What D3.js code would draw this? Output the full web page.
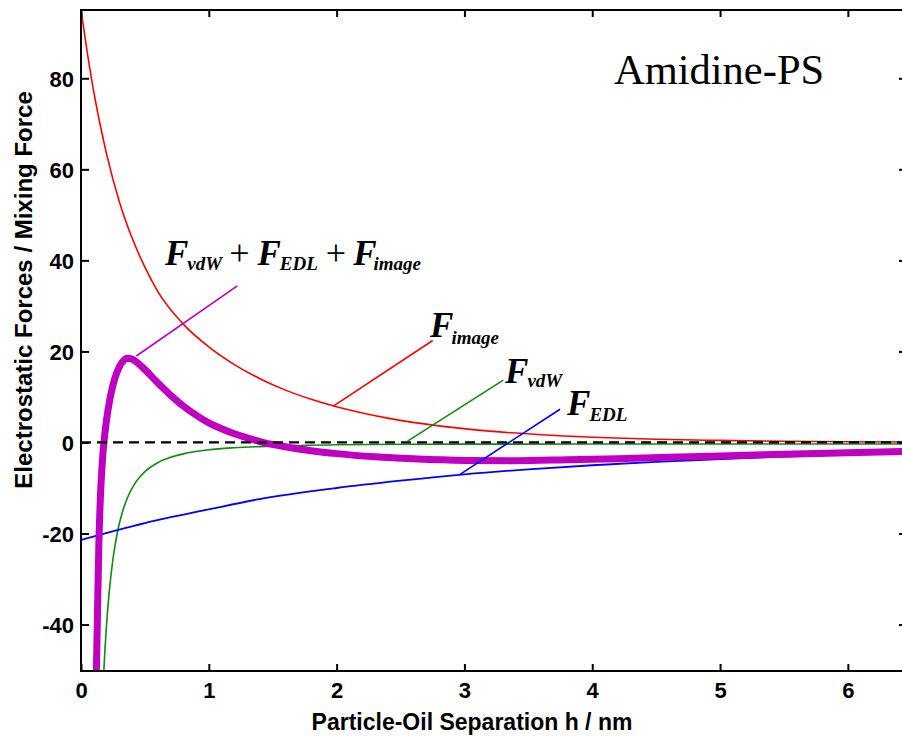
<!DOCTYPE html>
<html>
<head>
<meta charset="utf-8">
<script src="https://cdn.jsdelivr.net/npm/d3@7"></script>
<style>
  html, body { margin: 0; padding: 0; background: #fff; }
  svg { display: block; }
</style>
</head>
<body>
<svg id="chart" width="902" height="736"></svg>
<script>
// Separation h (nm) and force values for each component
const imageH   = [0, 0.05, 0.1, 0.15, 0.2, 0.3, 0.4, 0.5, 0.6, 0.8, 1.0, 1.2, 1.4, 1.6, 1.8, 2.0, 2.4, 2.8, 3.2, 3.6, 4.0, 4.5, 5.0, 5.5, 6.0, 6.45];
const imageF   = [95, 85.5, 77.0, 69.8, 63.4, 52.9, 44.9, 38.5, 33.2, 26.0, 21.0, 17.1, 14.0, 11.5, 9.5, 7.85, 5.35, 3.65, 2.5, 1.7, 1.16, 0.72, 0.45, 0.28, 0.17, 0.11];

const vdwH     = [0.15, 0.16, 0.17, 0.18, 0.20, 0.22, 0.25, 0.29, 0.33, 0.37, 0.43, 0.50, 0.60, 0.70, 0.80, 1.00, 1.20, 1.50, 2.00, 2.50, 3.00, 4.00, 5.00, 6.45];
const vdwF     = [-71, -62.5, -55.4, -49.4, -40, -33.1, -25.6, -19.0, -14.7, -11.7, -8.65, -6.4, -4.45, -3.27, -2.5, -1.6, -1.15, -0.8, -0.5, -0.4, -0.36, -0.34, -0.33, -0.32];

const edlH     = [0, 0.5, 1.0, 1.385, 2.0, 2.5, 3.0, 3.5, 4.0, 4.5, 5.0, 5.5, 6.0, 6.45];
const edlF     = [-21.4, -17.7, -14.7, -12.5, -10.0, -8.4, -7.0, -5.9, -5.0, -4.25, -3.65, -3.1, -2.65, -2.3];

const totalH   = [0.11, 0.12, 0.13, 0.14, 0.155, 0.17, 0.185, 0.20, 0.22, 0.24, 0.26, 0.28, 0.30, 0.33, 0.36, 0.40, 0.45, 0.50, 0.60, 0.70, 0.80, 0.90, 1.00, 1.10, 1.20, 1.30, 1.40, 1.60, 1.80, 2.00, 2.30, 2.60, 3.00, 3.40, 3.80, 4.20, 4.60, 5.00, 5.50, 6.00, 6.45];
const totalF   = [-66, -51, -36, -22, -10, -3, 1.5, 5.0, 8.6, 11.4, 13.6, 15.3, 16.6, 17.9, 18.5, 18.3, 17.3, 16.0, 13.1, 10.4, 8.0, 6.0, 4.3, 3.0, 1.9, 1.0, 0.2, -0.95, -1.8, -2.45, -3.15, -3.6, -3.95, -4.0, -3.8, -3.55, -3.25, -2.95, -2.6, -2.25, -1.95];

// Axis ticks
const xTicks = [0, 1, 2, 3, 4, 5, 6];
const yTicks = [-40, -20, 0, 20, 40, 60, 80];

// Leader lines (h, F) -> (h, F) and their labels
const leaderLines = [
  { key: "total", from: [0.433, 19.0], to: [1.223, 34.4], color: "#c000c0" },
  { key: "image", from: [1.974, 8.0],  to: [2.752, 22.4], color: "#ff0000" },
  { key: "vdw",   from: [2.549, 0.18], to: [3.304, 13.7], color: "#108a10" },
  { key: "edl",   from: [2.966, -7.0], to: [3.748, 7.3],  color: "#0000ff" }
];
const labelPos = {
  total: [0.657, 39.0],
  image: [2.731, 23.2],
  vdw:   [3.318, 13.1],
  edl:   [3.803, 6.0]
};

const svg = d3.select("#chart");
const W = 902, H = 736;
const mLeft = 81, mTop = 10, mRight = 906, mBottom = 671;

svg.append("rect").attr("width", W).attr("height", H).attr("fill", "#fff");

const x = d3.scaleLinear().domain([0, 6.455]).range([mLeft, mRight]);
const y = d3.scaleLinear().domain([-50.2, 95]).range([mBottom, mTop]);

svg.append("defs").append("clipPath").attr("id", "plotClip")
  .append("rect").attr("x", mLeft).attr("y", mTop).attr("width", mRight - mLeft).attr("height", mBottom - mTop);

const plot = svg.append("g").attr("clip-path", "url(#plotClip)");

const line = d3.line().x(d => x(d[0])).y(d => y(d[1])).curve(d3.curveMonotoneX);
const zip = (a, b) => a.map((v, i) => [v, b[i]]);

plot.append("path").datum(zip(imageH, imageF))
  .attr("d", line).attr("fill", "none").attr("stroke", "#ff0000").attr("stroke-width", 1.6);
plot.append("path").datum(zip(vdwH, vdwF))
  .attr("d", line).attr("fill", "none").attr("stroke", "#108a10").attr("stroke-width", 1.6);
plot.append("path").datum(zip(edlH, edlF))
  .attr("d", line).attr("fill", "none").attr("stroke", "#0000ff").attr("stroke-width", 1.8);
plot.append("path").datum(zip(totalH, totalF))
  .attr("d", line).attr("fill", "none").attr("stroke", "#c000c0").attr("stroke-width", 7)
  .attr("stroke-linejoin", "round");

// zero reference
plot.append("line")
  .attr("x1", x(0)).attr("x2", x(6.455)).attr("y1", y(0)).attr("y2", y(0))
  .attr("stroke", "#000").attr("stroke-width", 2.2).attr("stroke-dasharray", "10,6");

// leader lines
plot.selectAll("line.leader").data(leaderLines).enter().append("line")
  .attr("class", "leader")
  .attr("x1", d => x(d.from[0])).attr("y1", d => y(d.from[1]))
  .attr("x2", d => x(d.to[0])).attr("y2", d => y(d.to[1]))
  .attr("stroke", d => d.color).attr("stroke-width", 1.6);

// frame
svg.append("rect").attr("x", mLeft).attr("y", mTop).attr("width", mRight - mLeft).attr("height", mBottom - mTop)
  .attr("fill", "none").attr("stroke", "#000").attr("stroke-width", 2);

// axes (ticks point inward)
const fmt = d => String(d);
const xAxis = svg.append("g").attr("transform", `translate(0,${mBottom})`)
  .call(d3.axisBottom(x).tickValues(xTicks).tickSize(-7).tickPadding(11).tickFormat(fmt));
const xAxisTop = svg.append("g").attr("transform", `translate(0,${mTop})`)
  .call(d3.axisTop(x).tickValues(xTicks).tickSize(-7).tickFormat(""));
const yAxis = svg.append("g").attr("transform", `translate(${mLeft},0)`)
  .call(d3.axisLeft(y).tickValues(yTicks).tickSize(-8).tickPadding(7).tickFormat(fmt));
const yAxisRight = svg.append("g").attr("transform", `translate(${mRight},0)`)
  .call(d3.axisRight(y).tickValues(yTicks).tickSize(-7).tickFormat(""));

[xAxis, xAxisTop, yAxis, yAxisRight].forEach(g => {
  g.select(".domain").remove();
  g.selectAll(".tick line").attr("stroke", "#000").attr("stroke-width", 2);
  g.selectAll(".tick text")
    .attr("fill", "#000")
    .style("font-family", "Arial, 'Liberation Sans', sans-serif")
    .style("font-weight", "bold")
    .style("font-size", "22px");
});
yAxis.selectAll(".tick text").attr("dy", "0.36em");

// axis titles
svg.append("text")
  .attr("x", 472).attr("y", 730)
  .attr("text-anchor", "middle")
  .style("font-family", "Arial, 'Liberation Sans', sans-serif")
  .style("font-weight", "bold").style("font-size", "23px")
  .text("Particle-Oil Separation h / nm");

svg.append("text")
  .attr("transform", "translate(32,290) rotate(-90)")
  .attr("text-anchor", "middle")
  .style("font-family", "Arial, 'Liberation Sans', sans-serif")
  .style("font-weight", "bold").style("font-size", "24px")
  .text("Electrostatic Forces / Mixing Force");

// sample name
svg.append("text")
  .attr("x", 614).attr("y", 84)
  .style("font-family", "'Liberation Serif', 'Times New Roman', serif")
  .style("font-size", "42.5px")
  .text("Amidine-PS");

// curve labels: F with subscript
const serif = "'Liberation Serif', 'Times New Roman', serif";
function forceLabel(g, parts) {
  const t = g.append("text").style("font-family", serif).attr("fill", "#000");
  parts.forEach(p => {
    const s = t.append("tspan").text(p.text);
    if (p.kind === "F") {
      s.style("font-size", "35px").style("font-weight", "bold").style("font-style", "italic");
    } else if (p.kind === "sub") {
      s.style("font-size", "19px").style("font-weight", "bold").style("font-style", "italic");
    } else {
      s.style("font-size", "36px");
    }
    if (p.dx) s.attr("dx", p.dx);
    if (p.dy) s.attr("dy", p.dy);
  });
  return t;
}

const labelsG = svg.append("g");
forceLabel(labelsG, [
  { kind: "F", text: "F" }, { kind: "sub", text: "vdW", dx: -1, dy: 5 },
  { kind: "op", text: "+", dx: 7, dy: -5 },
  { kind: "F", text: "F", dx: 8 }, { kind: "sub", text: "EDL", dx: -1, dy: 5 },
  { kind: "op", text: "+", dx: 8, dy: -5 },
  { kind: "F", text: "F", dx: 7 }, { kind: "sub", text: "image", dx: -3, dy: 5 }
]).attr("x", x(labelPos.total[0])).attr("y", y(labelPos.total[1]));

forceLabel(labelsG, [
  { kind: "F", text: "F" }, { kind: "sub", text: "image", dx: -2, dy: 7 }
]).attr("x", x(labelPos.image[0])).attr("y", y(labelPos.image[1]));

forceLabel(labelsG, [
  { kind: "F", text: "F" }, { kind: "sub", text: "vdW", dx: -1, dy: 4 }
]).attr("x", x(labelPos.vdw[0])).attr("y", y(labelPos.vdw[1]));

forceLabel(labelsG, [
  { kind: "F", text: "F" }, { kind: "sub", text: "EDL", dx: -1, dy: 6 }
]).attr("x", x(labelPos.edl[0])).attr("y", y(labelPos.edl[1]));
</script>
</body>
</html>
